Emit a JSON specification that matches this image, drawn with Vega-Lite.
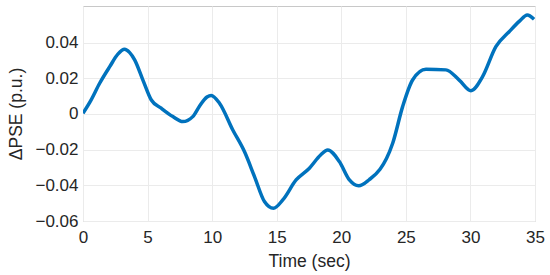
{
  "$schema": "https://vega.github.io/schema/vega-lite/v6.json",
  "autosize": "none",
  "width": 452,
  "height": 215,
  "padding": {"left": 83, "top": 6, "right": 15, "bottom": 54},
  "background": "white",
  "config": {
    "view": {"stroke": "#c8c8c8", "strokeWidth": 1},
    "font": "Liberation Sans"
  },
  "data": {
    "values": [
      {"t": 0, "v": 0.0004},
      {"t": 0.6, "v": 0.0075},
      {"t": 1.29, "v": 0.0172},
      {"t": 2.07, "v": 0.0265},
      {"t": 2.7, "v": 0.0335},
      {"t": 3.22, "v": 0.0362},
      {"t": 3.6, "v": 0.0345},
      {"t": 4.0, "v": 0.0303},
      {"t": 4.64, "v": 0.019},
      {"t": 5.29, "v": 0.0078},
      {"t": 6.06, "v": 0.0032},
      {"t": 6.96, "v": -0.0015},
      {"t": 7.73, "v": -0.0043},
      {"t": 8.5, "v": -0.0015},
      {"t": 9.03, "v": 0.0045},
      {"t": 9.6, "v": 0.0095},
      {"t": 9.93, "v": 0.0104},
      {"t": 10.57, "v": 0.006},
      {"t": 11.6, "v": -0.009},
      {"t": 12.5, "v": -0.0211},
      {"t": 13.28, "v": -0.0351},
      {"t": 14.05, "v": -0.0491},
      {"t": 14.75, "v": -0.0529},
      {"t": 15.47, "v": -0.0482},
      {"t": 16.5, "v": -0.037},
      {"t": 17.53, "v": -0.0304},
      {"t": 18.4, "v": -0.023},
      {"t": 18.95, "v": -0.0202},
      {"t": 19.85, "v": -0.0267},
      {"t": 20.63, "v": -0.037},
      {"t": 21.35, "v": -0.0403},
      {"t": 22.17, "v": -0.0368},
      {"t": 23.0, "v": -0.031},
      {"t": 23.5, "v": -0.025},
      {"t": 23.98, "v": -0.0164},
      {"t": 24.75, "v": 0.0041},
      {"t": 25.52, "v": 0.019},
      {"t": 26.56, "v": 0.025},
      {"t": 28.1, "v": 0.0247},
      {"t": 29.13, "v": 0.019},
      {"t": 30.04, "v": 0.013},
      {"t": 30.94, "v": 0.0209},
      {"t": 31.97, "v": 0.0377},
      {"t": 33.0, "v": 0.0461},
      {"t": 33.8, "v": 0.052},
      {"t": 34.4, "v": 0.0555},
      {"t": 34.93, "v": 0.0531}
    ]
  },
  "mark": {"type": "line", "interpolate": "monotone", "color": "#0072BD", "strokeWidth": 3.5, "clip": true},
  "encoding": {
    "x": {
      "field": "t",
      "type": "quantitative",
      "scale": {"domain": [0, 35], "nice": false, "zero": false},
      "axis": {
        "title": "Time (sec)",
        "values": [0, 5, 10, 15, 20, 25, 30, 35],
        "titleFont": "Liberation Sans",
        "titleFontSize": 17.5,
        "titleFontWeight": "normal",
        "titleColor": "#262626",
        "titlePadding": 7,
        "labelFontSize": 17,
        "labelColor": "#262626",
        "labelPadding": 8,
        "domain": false,
        "ticks": false,
        "gridColor": "#ebebeb",
        "labelFlush": false
      }
    },
    "y": {
      "field": "v",
      "type": "quantitative",
      "scale": {"domain": [-0.06, 0.0605], "nice": false, "zero": false},
      "axis": {
        "title": "ΔPSE (p.u.)",
        "values": [-0.06, -0.04, -0.02, 0, 0.02, 0.04],
        "labelExpr": "datum.value == 0 ? '0' : format(datum.value, '.2f')",
        "titleFont": "Liberation Sans",
        "titleFontSize": 17.5,
        "titleFontWeight": "normal",
        "titleColor": "#262626",
        "titlePadding": 9,
        "labelFontSize": 17,
        "labelColor": "#262626",
        "labelPadding": 5,
        "domain": false,
        "ticks": false,
        "gridColor": "#ebebeb",
        "labelFlush": false
      }
    }
  }
}
